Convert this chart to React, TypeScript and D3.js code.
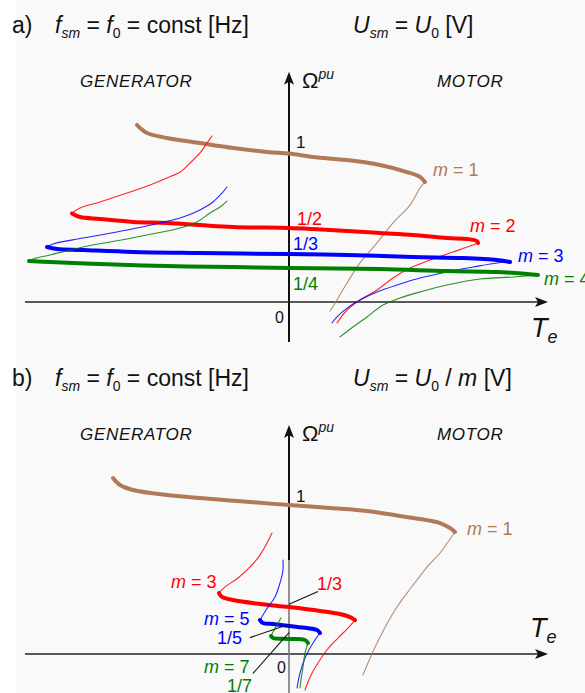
import React from "react";
import * as d3 from "d3";

type Pt = [number, number]; // [T_e, Ω (pu)]

// ---------- a) U_sm = U0 ----------
const A_M1_STABLE: Pt[] = [
  [-1.52, 1.196], [-1.49, 1.176], [-1.42, 1.142], [-1.22, 1.108], [-0.89, 1.074],
  [-0.56, 1.041], [-0.22, 1.014], [0, 1.003], [0.24, 0.98], [0.58, 0.959],
  [0.91, 0.926], [1.18, 0.878], [1.31, 0.845], [1.36, 0.811],
];
const A_M1_MOTOR: Pt[] = [
  [1.36, 0.811], [1.31, 0.77], [1.21, 0.655], [1.04, 0.534], [0.88, 0.399],
  [0.71, 0.264], [0.58, 0.128], [0.48, 0.014], [0.41, -0.061],
];

const A_M2_GEN: Pt[] = [
  [-0.77, 1.122], [-0.82, 1.074], [-0.89, 1.007], [-0.99, 0.939], [-1.09, 0.878],
  [-1.22, 0.838], [-1.39, 0.791], [-1.62, 0.736], [-1.89, 0.676], [-2.09, 0.635],
  [-2.17, 0.601],
];
const A_M2_STABLE: Pt[] = [
  [-2.17, 0.598], [-2.09, 0.574], [-1.89, 0.561], [-1.56, 0.541], [-1.22, 0.534],
  [-0.89, 0.52], [-0.56, 0.507], [0, 0.5], [0.24, 0.493], [0.58, 0.48],
  [0.91, 0.466], [1.24, 0.453], [1.58, 0.432], [1.78, 0.426], [1.88, 0.412],
  [1.89, 0.399],
];
const A_M2_MOTOR: Pt[] = [
  [1.89, 0.399], [1.81, 0.378], [1.64, 0.338], [1.41, 0.284], [1.21, 0.23],
  [1.04, 0.162], [0.88, 0.081], [0.71, 0.014], [0.58, -0.054], [0.48, -0.142],
];

const A_M3_GEN: Pt[] = [
  [-0.62, 0.777], [-0.67, 0.736], [-0.76, 0.676], [-0.89, 0.622], [-1.06, 0.574],
  [-1.29, 0.534], [-1.62, 0.486], [-2.06, 0.432], [-2.36, 0.392], [-2.42, 0.372],
];
const A_M3_STABLE: Pt[] = [
  [-2.42, 0.372], [-2.32, 0.358], [-2.06, 0.351], [-1.56, 0.338], [-0.89, 0.331],
  [0, 0.324], [0.58, 0.318], [1.24, 0.304], [1.74, 0.297], [2.08, 0.284],
  [2.21, 0.27],
];
const A_M3_MOTOR: Pt[] = [
  [2.21, 0.27], [2.08, 0.264], [1.84, 0.236], [1.58, 0.203], [1.31, 0.162],
  [1.08, 0.115], [0.88, 0.068], [0.71, 0.014], [0.58, -0.041], [0.48, -0.101],
  [0.43, -0.142],
];

const A_M4_GEN: Pt[] = [
  [-0.62, 0.682], [-0.69, 0.642], [-0.79, 0.601], [-0.92, 0.541], [-1.09, 0.5],
  [-1.32, 0.466], [-1.62, 0.426], [-2.06, 0.372], [-2.39, 0.318], [-2.56, 0.291],
  [-2.6, 0.277],
];
const A_M4_STABLE: Pt[] = [
  [-2.6, 0.277], [-2.39, 0.27], [-1.89, 0.257], [-1.22, 0.243], [-0.56, 0.236],
  [0, 0.23], [0.91, 0.223], [1.58, 0.209], [2.08, 0.203], [2.38, 0.189],
  [2.49, 0.182],
];
const A_M4_MOTOR: Pt[] = [
  [2.49, 0.182], [2.24, 0.169], [1.91, 0.155], [1.58, 0.115], [1.31, 0.068],
  [1.11, 0.027], [0.94, -0.02], [0.78, -0.101], [0.64, -0.169], [0.51, -0.236],
];

// ---------- b) U_sm = U0 / m ----------
const B_M1_STABLE: Pt[] = [
  [-1.76, 1.181], [-1.69, 1.134], [-1.56, 1.101], [-1.22, 1.067], [-0.89, 1.047],
  [-0.39, 1.02], [0, 1.0], [0.41, 0.98], [0.78, 0.96], [1.11, 0.926],
  [1.31, 0.906], [1.51, 0.879], [1.61, 0.846], [1.66, 0.819],
];
const B_M1_MOTOR: Pt[] = [
  [1.66, 0.819], [1.59, 0.752], [1.51, 0.678], [1.39, 0.591], [1.28, 0.497],
  [1.18, 0.409], [1.08, 0.315], [0.99, 0.215], [0.91, 0.114], [0.82, -0.013],
  [0.74, -0.141],
];

const B_M3_GEN: Pt[] = [
  [-0.17, 0.812], [-0.23, 0.732], [-0.29, 0.664], [-0.39, 0.584], [-0.51, 0.51],
  [-0.64, 0.45], [-0.7, 0.409],
];
const B_M3_STABLE: Pt[] = [
  [-0.7, 0.409], [-0.67, 0.383], [-0.56, 0.362], [-0.29, 0.336], [0, 0.315],
  [0.31, 0.289], [0.51, 0.268], [0.61, 0.248], [0.66, 0.228],
];
const B_M3_MOTOR: Pt[] = [
  [0.66, 0.228], [0.59, 0.174], [0.49, 0.107], [0.38, 0.027], [0.29, -0.06],
  [0.22, -0.141], [0.16, -0.242],
];

const B_M5_GEN: Pt[] = [
  [-0.06, 0.631], [-0.06, 0.564], [-0.09, 0.477], [-0.14, 0.383], [-0.21, 0.315],
  [-0.26, 0.262], [-0.29, 0.228],
];
const B_M5_STABLE: Pt[] = [
  [-0.29, 0.228], [-0.26, 0.208], [-0.16, 0.201], [0, 0.188], [0.18, 0.174],
  [0.28, 0.161], [0.31, 0.141],
];
const B_M5_MOTOR: Pt[] = [
  [0.31, 0.141], [0.26, 0.094], [0.21, 0.04], [0.16, -0.027], [0.11, -0.128],
  [0.08, -0.228],
];

const B_M7_GEN: Pt[] = [
  [-0.08, 0.242], [-0.12, 0.195], [-0.16, 0.148], [-0.18, 0.121],
];
const B_M7_STABLE: Pt[] = [
  [-0.18, 0.121], [-0.16, 0.107], [0, 0.101], [0.16, 0.094], [0.19, 0.074],
];
const B_M7_MOTOR: Pt[] = [
  [0.19, 0.074], [0.16, 0.007], [0.14, -0.087], [0.12, -0.174], [0.11, -0.228],
];

// ---------- styling ----------
const FONT = "'Liberation Sans', Arial, Helvetica, sans-serif";
const BROWN = "#b07a58";
const RED = "#ff0000";
const BLUE = "#0000ff";
const GREEN = "#008000";

type Curve = { color: string; gen?: Pt[]; stable: Pt[]; motor: Pt[] };

const CURVES_A: Curve[] = [
  { color: BROWN, stable: A_M1_STABLE, motor: A_M1_MOTOR },
  { color: RED, gen: A_M2_GEN, stable: A_M2_STABLE, motor: A_M2_MOTOR },
  { color: BLUE, gen: A_M3_GEN, stable: A_M3_STABLE, motor: A_M3_MOTOR },
  { color: GREEN, gen: A_M4_GEN, stable: A_M4_STABLE, motor: A_M4_MOTOR },
];
const CURVES_B: Curve[] = [
  { color: BROWN, stable: B_M1_STABLE, motor: B_M1_MOTOR },
  { color: RED, gen: B_M3_GEN, stable: B_M3_STABLE, motor: B_M3_MOTOR },
  { color: BLUE, gen: B_M5_GEN, stable: B_M5_STABLE, motor: B_M5_MOTOR },
  { color: GREEN, gen: B_M7_GEN, stable: B_M7_STABLE, motor: B_M7_MOTOR },
];

type Scales = { x: d3.ScaleLinear<number, number>; y: d3.ScaleLinear<number, number> };

function Curves({ curves, s }: { curves: Curve[]; s: Scales }) {
  const line = d3
    .line<Pt>()
    .x((d) => s.x(d[0]))
    .y((d) => s.y(d[1]))
    .curve(d3.curveCatmullRom.alpha(0.5));
  return (
    <g fill="none" strokeLinecap="round" strokeLinejoin="round">
      {curves.map((c, i) => (
        <g key={i}>
          {c.gen && <path d={line(c.gen) || ""} stroke={c.color} strokeWidth={1.1} opacity={0.85} />}
          <path d={line(c.motor) || ""} stroke={c.color} strokeWidth={1.1} opacity={0.85} />
          <path d={line(c.stable) || ""} stroke={c.color} strokeWidth={4} />
        </g>
      ))}
    </g>
  );
}

function Axes({
  s,
  yTop,
  yBottom,
  xLeft,
  xRight,
  greyBelow,
}: {
  s: Scales;
  yTop: number;
  yBottom: number;
  xLeft: number;
  xRight: number;
  greyBelow?: number;
}) {
  const x0 = s.x(0);
  const y0 = s.y(0);
  const top = s.y(yTop);
  const right = s.x(xRight);
  const split = greyBelow !== undefined ? s.y(greyBelow) : s.y(yBottom);
  return (
    <g>
      <line x1={s.x(xLeft)} x2={right - 8} y1={y0} y2={y0} stroke="#222" strokeWidth={1.6} />
      <path d={`M${right},${y0} L${right - 13},${y0 - 5} L${right - 10},${y0} L${right - 13},${y0 + 5} Z`} fill="#111" />
      <line x1={x0} x2={x0} y1={top + 8} y2={split} stroke="#111" strokeWidth={2} />
      {greyBelow !== undefined && (
        <line x1={x0} x2={x0} y1={split} y2={s.y(yBottom)} stroke="#777" strokeWidth={1.6} />
      )}
      <path d={`M${x0},${top} L${x0 - 5},${top + 13} L${x0},${top + 10} L${x0 + 5},${top + 13} Z`} fill="#111" />
    </g>
  );
}

function Header({ tag, y, divideByM }: { tag: string; y: number; divideByM?: boolean }) {
  return (
    <g fontFamily={FONT} fill="#111" style={{ whiteSpace: "pre" }}>
      <text x={12} y={y} fontSize={23}>{tag}</text>
      <text x={55} y={y} fontSize={23}>
        <tspan fontStyle="italic">f</tspan>
        <tspan fontStyle="italic" fontSize={14} dy={5}>sm</tspan>
        <tspan dy={-5}>{" = "}</tspan>
        <tspan fontStyle="italic">f</tspan>
        <tspan fontSize={14} dy={5}>0</tspan>
        <tspan dy={-5}>{" = const [Hz]"}</tspan>
      </text>
      <text x={353} y={y} fontSize={23}>
        <tspan fontStyle="italic">U</tspan>
        <tspan fontStyle="italic" fontSize={14} dy={5}>sm</tspan>
        <tspan dy={-5}>{" = "}</tspan>
        <tspan fontStyle="italic">U</tspan>
        <tspan fontSize={14} dy={5}>0</tspan>
        <tspan dy={-5}>{divideByM ? " / " : " "}</tspan>
        {divideByM && <tspan fontStyle="italic">m</tspan>}
        {divideByM && <tspan>{" "}</tspan>}
        <tspan>[V]</tspan>
      </text>
    </g>
  );
}

function Regions({ y, s }: { y: number; s: Scales }) {
  const x0 = s.x(0);
  return (
    <g fontFamily={FONT} fill="#111">
      <text x={80} y={y} fontSize={17} fontStyle="italic" letterSpacing={0.7}>GENERATOR</text>
      <text x={437} y={y} fontSize={17} fontStyle="italic" letterSpacing={0.7}>MOTOR</text>
      <text x={x0 + 13} y={y + 1} fontSize={22}>
        Ω<tspan fontSize={14} fontStyle="italic" dy={-9}>pu</tspan>
      </text>
    </g>
  );
}

function Te({ x, y }: { x: number; y: number }) {
  return (
    <text x={x} y={y} fontFamily={FONT} fontSize={27} fontStyle="italic" fill="#111">
      T<tspan fontSize={18} dy={6}>e</tspan>
    </text>
  );
}

export default function App() {
  const W = 585;
  const H = 693;

  const sA: Scales = {
    x: d3.scaleLinear().domain([0, 1]).range([289, 389]),
    y: d3.scaleLinear().domain([0, 1]).range([302, 154]),
  };
  const sB: Scales = {
    x: d3.scaleLinear().domain([0, 1]).range([289, 389]),
    y: d3.scaleLinear().domain([0, 1]).range([654, 505]),
  };

  const lab = { fontFamily: FONT, fontSize: 18 } as const;

  return (
    <svg
      width={W}
      height={H}
      viewBox={`0 0 ${W} ${H}`}
      style={{ position: "absolute", left: 0, top: 0, background: "#fff" }}
    >
      <rect x={16} y={0} width={W - 16} height={H} fill="#f9f9f9" />

      {/* ---------- a) ---------- */}
      <Header tag="a)" y={33} />
      <Regions y={87} s={sA} />
      <Axes s={sA} yTop={1.555} yBottom={-0.27} xLeft={-2.64} xRight={2.59} />
      <Curves curves={CURVES_A} s={sA} />
      <g {...lab}>
        <text x={sA.x(0.07)} y={sA.y(1.04)} fontSize={17} fill="#111">1</text>
        <text x={sA.x(0.08)} y={sA.y(0.52)} fill={RED}>1/2</text>
        <text x={sA.x(0.04)} y={sA.y(0.35)} fill={BLUE}>1/3</text>
        <text x={sA.x(0.04)} y={sA.y(0.08)} fill={GREEN}>1/4</text>
        <text x={sA.x(-0.14)} y={sA.y(-0.14)} fontSize={16} fill="#111">0</text>
        <text x={sA.x(1.44)} y={sA.y(0.853)} fill={BROWN}>
          <tspan fontStyle="italic">m</tspan> = 1
        </text>
        <text x={sA.x(1.81)} y={sA.y(0.473)} fill={RED}>
          <tspan fontStyle="italic">m</tspan> = 2
        </text>
        <text x={sA.x(2.29)} y={sA.y(0.27)} fill={BLUE}>
          <tspan fontStyle="italic">m</tspan> = 3
        </text>
        <text x={sA.x(2.55)} y={sA.y(0.115)} fill={GREEN}>
          <tspan fontStyle="italic">m</tspan> = 4
        </text>
      </g>
      <Te x={531} y={337} />

      {/* ---------- b) ---------- */}
      <Header tag="b)" y={386} divideByM />
      <Regions y={440} s={sB} />
      <Axes s={sB} yTop={1.537} yBottom={-0.27} xLeft={-2.64} xRight={2.59} greyBelow={0.63} />
      <Curves curves={CURVES_B} s={sB} />
      {/* leader lines from the labels to the no-load speeds */}
      <g stroke="#111" strokeWidth={1.1}>
        <line x1={sB.x(0)} y1={sB.y(1 / 3)} x2={sB.x(0.29)} y2={sB.y(0.42)} />
        <line x1={sB.x(0)} y1={sB.y(1 / 5)} x2={sB.x(-0.39)} y2={sB.y(0.11)} />
        <line x1={sB.x(0)} y1={sB.y(1 / 7)} x2={sB.x(-0.36)} y2={sB.y(-0.13)} />
      </g>
      <g {...lab}>
        <text x={sB.x(0.07)} y={sB.y(1.02)} fontSize={17} fill="#111">1</text>
        <text x={sB.x(-0.12)} y={sB.y(-0.13)} fontSize={16} fill="#111">0</text>
        <text x={sB.x(1.78)} y={sB.y(0.80)} fill={BROWN}>
          <tspan fontStyle="italic">m</tspan> = 1
        </text>
        <text x={sB.x(-1.18)} y={sB.y(0.44)} fill={RED}>
          <tspan fontStyle="italic">m</tspan> = 3
        </text>
        <text x={sB.x(0.28)} y={sB.y(0.43)} fill={RED}>1/3</text>
        <text x={sB.x(-0.85)} y={sB.y(0.195)} fill={BLUE}>
          <tspan fontStyle="italic">m</tspan> = 5
        </text>
        <text x={sB.x(-0.72)} y={sB.y(0.067)} fill={BLUE}>1/5</text>
        <text x={sB.x(-0.85)} y={sB.y(-0.128)} fill={GREEN}>
          <tspan fontStyle="italic">m</tspan> = 7
        </text>
        <text x={sB.x(-0.62)} y={sB.y(-0.255)} fill={GREEN}>1/7</text>
      </g>
      <Te x={530} y={637} />
    </svg>
  );
}
